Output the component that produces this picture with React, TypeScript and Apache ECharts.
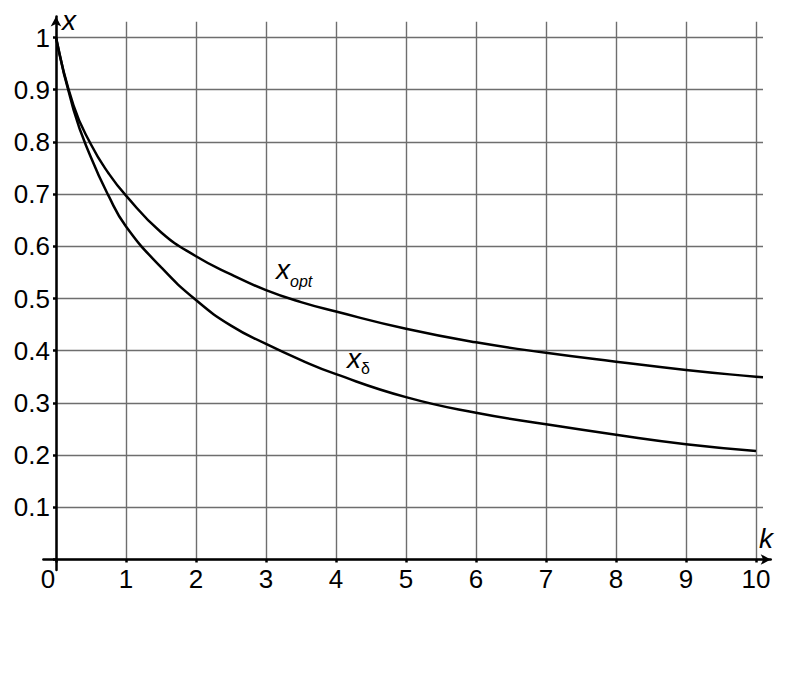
import React, { useEffect, useRef } from "react";
import * as echarts from "echarts";

const xTickValues = [0, 1, 2, 3, 4, 5, 6, 7, 8, 9, 10];
const yTickValues = [0, 0.1, 0.2, 0.3, 0.4, 0.5, 0.6, 0.7, 0.8, 0.9, 1];

const kOpt = [0, 0.25, 0.5, 0.75, 1, 1.5, 2, 2.5, 3, 3.5, 4, 5, 6, 7, 8, 9, 10, 10.1];
const xOpt = [1, 0.87, 0.795, 0.74, 0.697, 0.627, 0.581, 0.546, 0.516, 0.493, 0.475, 0.442, 0.416, 0.396, 0.379, 0.363, 0.35, 0.349];

const kDelta = [0, 0.25, 0.5, 0.75, 1, 1.5, 2, 2.5, 3, 3.5, 4, 5, 6, 7, 8, 9, 10];
const xDelta = [1, 0.862, 0.77, 0.697, 0.638, 0.56, 0.497, 0.448, 0.413, 0.382, 0.355, 0.311, 0.281, 0.259, 0.239, 0.221, 0.208];

const FONT = "'Liberation Sans', Arial, sans-serif";

export default function App() {
  const ref = useRef<HTMLDivElement>(null);
  useEffect(() => {
    if (!ref.current) return;
    const chart = echarts.init(ref.current, undefined, { renderer: "svg" });
    const pxPerK = 70;
    const pxPerX = 522;
    const x0 = 56;
    const y0 = 559.5;
    const dataMaxK = 10.1;
    const dataMaxX = 1.03;
    const axMinK = -0.18;
    const axMaxK = 10.21;
    const axMinX = -0.02;
    const axMaxX = 1.04;

    const option: any = {
      animation: false,
      backgroundColor: "#ffffff",
      grid: [
        {
          left: x0,
          top: y0 - dataMaxX * pxPerX,
          width: dataMaxK * pxPerK,
          height: dataMaxX * pxPerX,
          containLabel: false,
          outerBoundsMode: "none",
        },
        {
          left: x0 + axMinK * pxPerK,
          top: y0 - axMaxX * pxPerX,
          width: (axMaxK - axMinK) * pxPerK,
          height: (axMaxX - axMinX) * pxPerX,
          containLabel: false,
          outerBoundsMode: "none",
        },
      ],
      xAxis: [
        {
          type: "value",
          gridIndex: 0,
          min: 0,
          max: dataMaxK,
          interval: 1,
          axisLine: { show: false },
          axisTick: {
            show: true,
            length: 3,
            customValues: xTickValues,
            lineStyle: { color: "#000", width: 2.5 },
          },
          splitLine: {
            show: true,
            lineStyle: { color: "#6e6e6e", width: 1.4 },
          },
          axisLabel: {
            show: true,
            customValues: xTickValues,
            margin: 6,
            fontSize: 26,
            fontFamily: FONT,
            color: "#000",
            formatter: (v: number) => (v === 0 ? "{z|0}" : String(v)),
            rich: {
              z: { fontSize: 26, fontFamily: FONT, color: "#000", padding: [0, 16, 0, 0] },
            },
          },
        },
        {
          type: "value",
          gridIndex: 1,
          min: axMinK,
          max: axMaxK,
          axisLine: {
            show: true,
            onZero: true,
            symbol: ["none", "arrow"],
            symbolSize: [8, 10],
            lineStyle: { color: "#000", width: 2.5 },
          },
          axisTick: { show: false },
          axisLabel: { show: false },
          splitLine: { show: false },
        },
      ],
      yAxis: [
        {
          type: "value",
          gridIndex: 0,
          min: 0,
          max: dataMaxX,
          interval: 0.1,
          axisLine: { show: false },
          axisTick: {
            show: true,
            length: 3,
            customValues: yTickValues,
            lineStyle: { color: "#000", width: 2.5 },
          },
          splitLine: {
            show: true,
            lineStyle: { color: "#6e6e6e", width: 1.4 },
          },
          axisLabel: {
            show: true,
            customValues: yTickValues,
            margin: 6,
            fontSize: 26,
            fontFamily: FONT,
            color: "#000",
            formatter: (v: number) => (v === 0 ? "" : String(Math.round(v * 10) / 10)),
          },
        },
        {
          type: "value",
          gridIndex: 1,
          min: axMinX,
          max: axMaxX,
          axisLine: {
            show: true,
            onZero: true,
            symbol: ["none", "arrow"],
            symbolSize: [8, 10],
            lineStyle: { color: "#000", width: 2.5 },
          },
          axisTick: { show: false },
          axisLabel: { show: false },
          splitLine: { show: false },
        },
      ],
      series: [
        {
          name: "x_opt",
          type: "line",
          xAxisIndex: 0,
          yAxisIndex: 0,
          data: kOpt.map((k, i) => [k, xOpt[i]]),
          smooth: 0.5,
          showSymbol: false,
          symbol: "none",
          lineStyle: { color: "#000", width: 2.5 },
          z: 5,
        },
        {
          name: "x_delta",
          type: "line",
          xAxisIndex: 0,
          yAxisIndex: 0,
          data: kDelta.map((k, i) => [k, xDelta[i]]),
          smooth: 0.5,
          showSymbol: false,
          symbol: "none",
          lineStyle: { color: "#000", width: 2.5 },
          z: 5,
        },
      ],
      graphic: [
        {
          type: "text",
          left: 62,
          top: 6,
          style: { text: "x", font: `italic 28px ${FONT}`, fill: "#000" },
        },
        {
          type: "text",
          left: 759,
          top: 524,
          style: { text: "k", font: `italic 28px ${FONT}`, fill: "#000" },
        },
        {
          type: "text",
          left: 276,
          top: 255,
          style: { text: "x", font: `italic 28px ${FONT}`, fill: "#000" },
        },
        {
          type: "text",
          left: 290,
          top: 273,
          style: { text: "opt", font: `italic 16px ${FONT}`, fill: "#000" },
        },
        {
          type: "text",
          left: 347,
          top: 344,
          style: { text: "x", font: `italic 28px ${FONT}`, fill: "#000" },
        },
        {
          type: "text",
          left: 361,
          top: 360,
          style: { text: "δ", font: `16px ${FONT}`, fill: "#000" },
        },
      ],
    };
    chart.setOption(option);
    return () => chart.dispose();
  }, []);
  return (
    <div
      ref={ref}
      style={{ position: "fixed", left: 0, top: 0, width: 786, height: 677, background: "#fff" }}
    />
  );
}
